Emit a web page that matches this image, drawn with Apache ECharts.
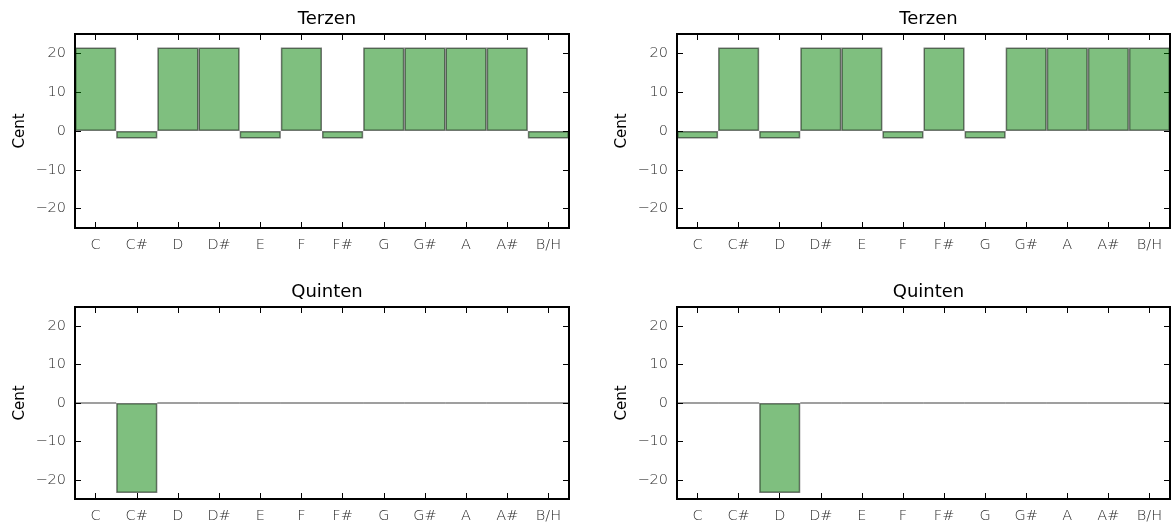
<!DOCTYPE html>
<html>
<head>
<meta charset="utf-8">
<script src="https://cdn.jsdelivr.net/npm/echarts@6/dist/echarts.min.js"></script>
<style>
html,body{margin:0;padding:0;background:#fff;}
#c{width:1173px;height:524px;}
</style>
</head>
<body>
<div id="c"></div>
<script>
const categories = ['C','C#','D','D#','E','F','F#','G','G#','A','A#','B/H'];
const terzenLeft  = [21.51,-1.95,21.51,21.51,-1.95,21.51,-1.95,21.51,21.51,21.51,21.51,-1.95];
const terzenRight = [-1.95,21.51,-1.95,21.51,21.51,-1.95,21.51,-1.95,21.51,21.51,21.51,21.51];
const quintenLeft  = [0,-23.46,0,0,0,0,0,0,0,0,0,0];
const quintenRight = [0,0,-23.46,0,0,0,0,0,0,0,0,0];
const yTicks = [-20,-10,0,10,20];
const yMin = -25, yMax = 25;
const titles = ['Terzen','Terzen','Quinten','Quinten'];
const panelData = [terzenLeft, terzenRight, quintenLeft, quintenRight];

const grids = [
  {left:75, top:34, width:494, height:194},
  {left:677, top:34, width:493, height:194},
  {left:75, top:307, width:494, height:193},
  {left:677, top:307, width:493, height:193}
];

const labelFont = {fontFamily:'DejaVu Sans', fontSize:14.5, fontWeight:300, color:'#2a2a2a'};
const fmt = v => String(v).replace('-', '\u2212');

const option = {
  animation:false,
  backgroundColor:'#fff',
  title: grids.map((g,i)=>({
    text: titles[i],
    left: g.left + g.width/2,
    top: g.top - 29,
    textAlign:'center',
    textStyle:{fontFamily:'DejaVu Sans', fontSize:18, fontWeight:'normal', color:'#000'}
  })),
  grid: grids.map(g=>Object.assign({show:true, borderColor:'#000', borderWidth:2, backgroundColor:'transparent'}, g)),
  xAxis: [],
  yAxis: [],
  series: []
};

grids.forEach((g,i)=>{
  option.xAxis.push({
    type:'category', gridIndex:i, data:categories, position:'bottom',
    boundaryGap:true,
    axisLine:{show:false, onZero:false},
    axisTick:{show:true, inside:true, alignWithLabel:true, length:6, lineStyle:{color:'#000', width:1}},
    axisLabel:Object.assign({margin:10}, labelFont),
    splitLine:{show:false}
  });
  option.xAxis.push({
    type:'category', gridIndex:i, data:categories, position:'top',
    boundaryGap:true,
    axisLine:{show:false, onZero:false},
    axisTick:{show:true, inside:true, alignWithLabel:true, length:6, lineStyle:{color:'#000', width:1}},
    axisLabel:{show:false},
    splitLine:{show:false}
  });
  option.yAxis.push({
    type:'value', gridIndex:i, min:yMin, max:yMax, position:'left',
    name: 'Cent', nameLocation:'middle', nameGap:47, nameRotate:90,
    nameTextStyle:{fontFamily:'DejaVu Sans', fontSize:15, color:'#000'},
    axisLine:{show:false, onZero:false},
    axisTick:{show:true, inside:true, length:6, customValues:yTicks, lineStyle:{color:'#000', width:1}},
    axisLabel:Object.assign({margin:9, customValues:yTicks, formatter:fmt}, labelFont),
    splitLine:{show:false}
  });
  option.yAxis.push({
    type:'value', gridIndex:i, min:yMin, max:yMax, position:'right',
    axisLine:{show:false, onZero:false},
    axisTick:{show:true, inside:true, length:6, customValues:yTicks, lineStyle:{color:'#000', width:1}},
    axisLabel:{show:false},
    splitLine:{show:false}
  });
  option.series.push({
    type:'bar',
    xAxisIndex:i*2, yAxisIndex:i*2,
    data: panelData[i],
    barWidth:'100%',
    barCategoryGap:'0%',
    itemStyle:{color:'rgba(0,128,0,0.5)', borderColor:'rgba(0,0,0,0.5)', borderWidth:1.5},
    emphasis:{disabled:true},
    silent:true
  });
});

const chart = echarts.init(document.getElementById('c'), null, {renderer:'canvas'});
chart.setOption(option);
</script>
</body>
</html>
